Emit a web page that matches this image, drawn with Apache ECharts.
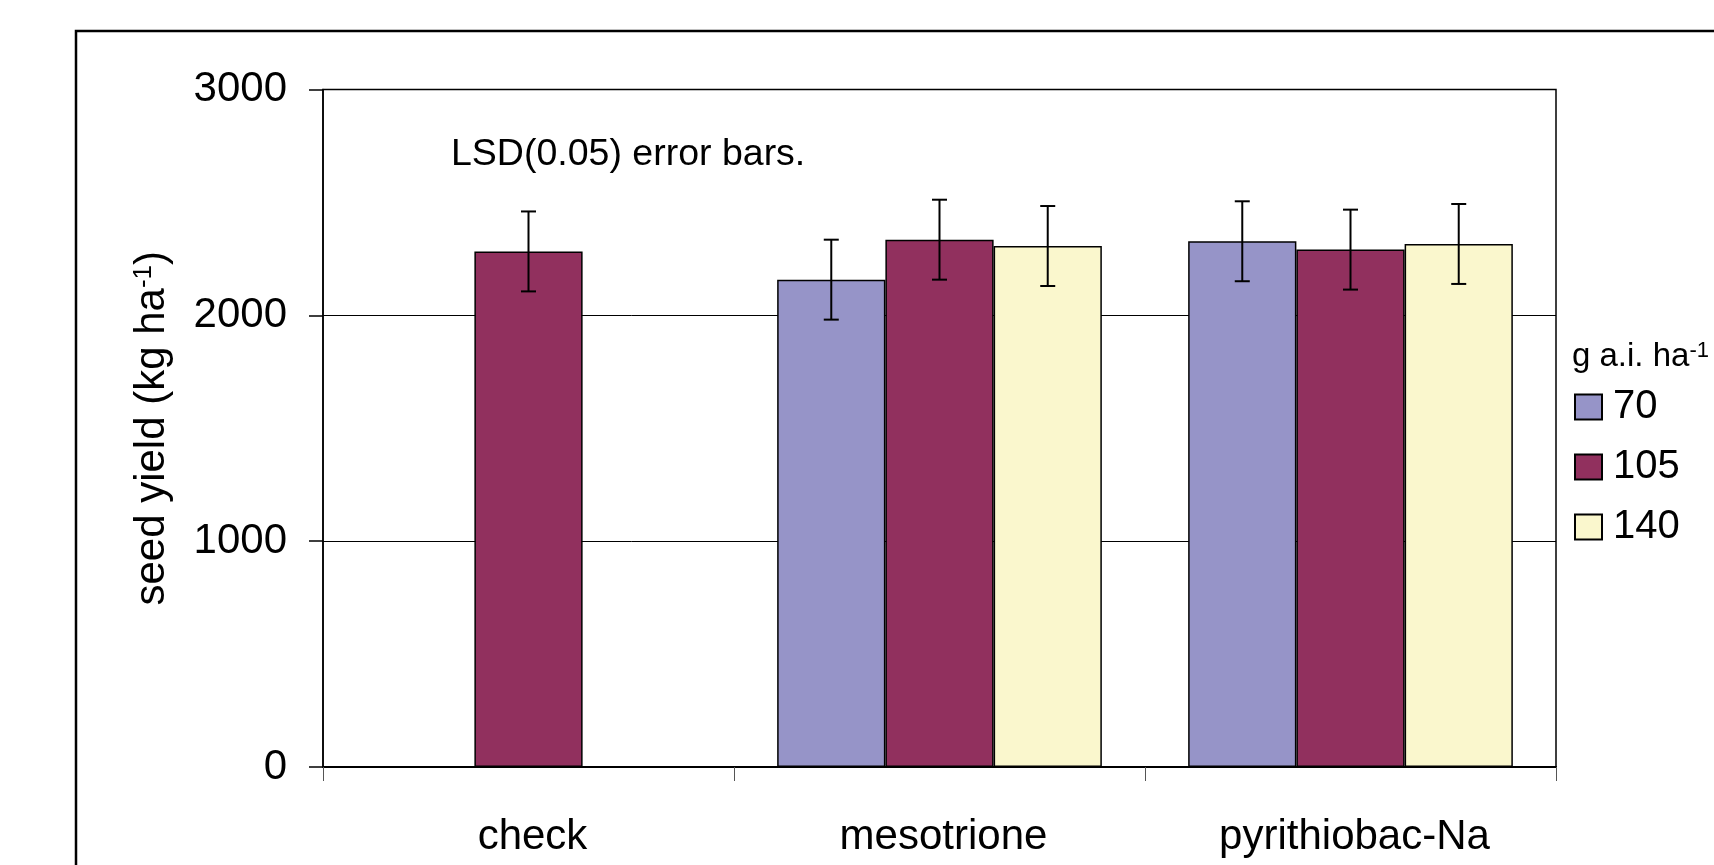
<!DOCTYPE html>
<html>
<head>
<meta charset="utf-8">
<script src="https://cdn.jsdelivr.net/npm/echarts@6/dist/echarts.min.js"></script>
<style>
html,body{margin:0;padding:0;background:#fff;}
#chart{width:1714px;height:865px;}
</style>
</head>
<body>
<div id="chart"></div>
<script>
// ---- data ----
const categories = ['check', 'mesotrione', 'pyrithiobac-Na'];
const rateNames = ['70', '105', '140'];
const rate70  = [null, 2158, 2328];
const rate105 = [2283, 2335, 2291];
const rate140 = [null, 2307, 2316];
const lsd70  = [null, 177, 177];
const lsd105 = [177, 177, 177];
const lsd140 = [null, 177, 177];
const yTicks = [0, 1000, 2000, 3000];

const FONT = '"Liberation Sans", Arial, sans-serif';
const colors = ['#9694C8', '#91305E', '#FAF7CD'];
const CAT_GAP = 0.21;

const values = [rate70, rate105, rate140];
const errs = [lsd70, lsd105, lsd140];

const chart = echarts.init(document.getElementById('chart'), null, {renderer: 'canvas'});

const barSeries = values.map((arr, i) => ({
  name: rateNames[i],
  type: 'bar',
  data: arr,
  barGap: '0%',
  barCategoryGap: (CAT_GAP * 100) + '%',
  itemStyle: {color: colors[i], borderColor: '#000', borderWidth: 1.5},
  emphasis: {disabled: true},
  z: 2
}));

const errSeries = values.map((arr, i) => ({
  type: 'custom',
  name: 'err' + rateNames[i],
  data: arr.map((v, k) => (v == null ? null : [k, v, errs[i][k]])).filter(d => d),
  z: 5,
  silent: true,
  renderItem: function (params, api) {
    const x = api.value(0), v = api.value(1), e = api.value(2);
    const top = api.coord([x, v + e]);
    const bot = api.coord([x, v - e]);
    const band = api.size([1, 0])[0];
    const off = (i - 1) * band * (1 - CAT_GAP) / 3;
    const cx = top[0] + off;
    const cap = 7.5;
    const st = {stroke: '#000', lineWidth: 2};
    return {
      type: 'group',
      children: [
        {type: 'line', shape: {x1: cx, y1: top[1], x2: cx, y2: bot[1]}, style: st},
        {type: 'line', shape: {x1: cx - cap, y1: top[1], x2: cx + cap, y2: top[1]}, style: st},
        {type: 'line', shape: {x1: cx - cap, y1: bot[1], x2: cx + cap, y2: bot[1]}, style: st}
      ]
    };
  }
}));

const option = {
  animation: false,
  backgroundColor: '#fff',
  textStyle: {fontFamily: FONT},
  grid: {
    left: 323, right: 158, top: 89.5, bottom: 98,
    show: true, borderColor: '#000', borderWidth: 1.5, backgroundColor: 'transparent'
  },
  legend: {
    orient: 'vertical',
    left: 1574,
    top: 387,
    padding: 0,
    data: rateNames,
    icon: 'rect',
    itemWidth: 27,
    itemHeight: 25,
    itemGap: 20,
    selectedMode: false,
    textStyle: {fontFamily: FONT, fontSize: 40, color: '#000', padding: [0, 0, 0, 6]}
  },
  xAxis: {
    type: 'category',
    data: categories,
    axisLine: {lineStyle: {color: '#000', width: 2}},
    axisTick: {show: true, length: 14, lineStyle: {color: '#555', width: 1}},
    axisLabel: {fontFamily: FONT, fontSize: 42, color: '#000', margin: 49, padding: [0, 0, 0, 8]}
  },
  yAxis: {
    type: 'value',
    min: yTicks[0],
    max: yTicks[yTicks.length - 1],
    interval: 1000,
    name: 'seed yield (kg ha{sup|-1})',
    nameLocation: 'middle',
    nameRotate: 90,
    nameGap: 150,
    nameTextStyle: {
      fontFamily: FONT, fontSize: 42, color: '#000',
      rich: {sup: {fontFamily: FONT, fontSize: 26, verticalAlign: 'top', color: '#000'}}
    },
    axisLine: {show: true, lineStyle: {color: '#000', width: 1.5}},
    axisTick: {show: true, length: 14, lineStyle: {color: '#000', width: 1.5}},
    axisLabel: {
      fontFamily: FONT, fontSize: 42, color: '#000', margin: 36,
      formatter: function (v) { return String(v); }
    },
    splitLine: {show: true, lineStyle: {color: '#000', width: 1}}
  },
  graphic: [
    {
      type: 'rect', silent: true, z: 100,
      shape: {x: 76, y: 31, width: 1800, height: 1000},
      style: {fill: 'none', stroke: '#000', lineWidth: 2.5}
    },
    {
      type: 'text', silent: true, z: 100,
      left: 451, top: 136,
      style: {text: 'LSD(0.05) error bars.', font: '37.5px ' + FONT, fill: '#000'}
    },
    {
      type: 'text', silent: true, z: 100,
      left: 1572, top: 340,
      style: {
        text: 'g a.i. ha{sup|-1}',
        fontFamily: FONT, fontSize: 33, fill: '#000',
        rich: {sup: {fontFamily: FONT, fontSize: 22, verticalAlign: 'top', fill: '#000'}}
      }
    }
  ],
  series: barSeries.concat(errSeries)
};

chart.setOption(option);
</script>
</body>
</html>
